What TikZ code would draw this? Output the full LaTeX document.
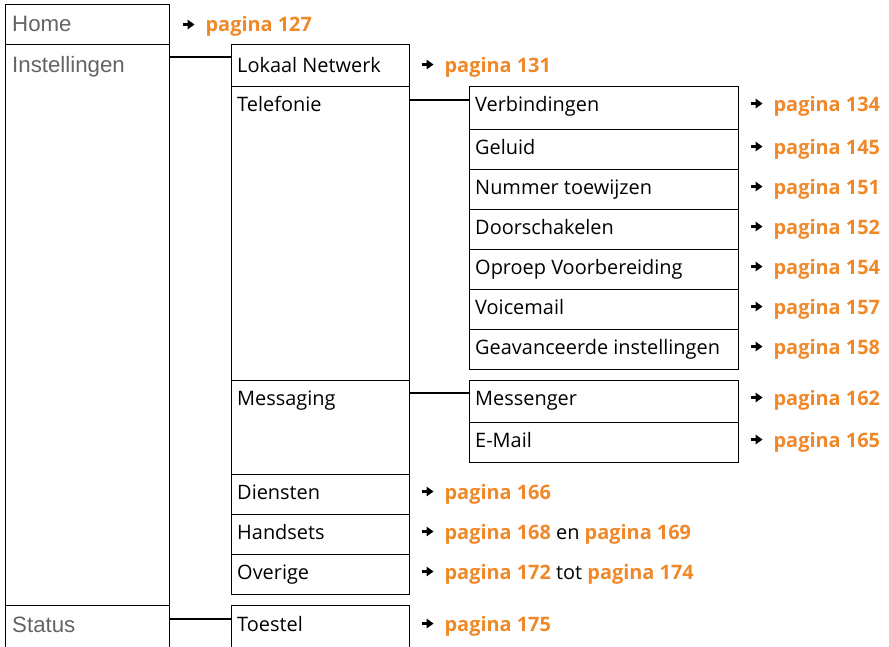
\documentclass[tikz,border=0pt]{standalone}
\usepackage{fontspec}
\setmainfont{Open Sans}
\newfontfamily\grijsfont{Liberation Sans}
\usetikzlibrary{calc,arrows.meta}
\definecolor{oranje}{RGB}{240,136,40}
\definecolor{grijs}{RGB}{100,100,100}
\def\pxl{0.03cm}
\newcommand{\pijl}{\tikz[baseline=-0.7ex]\draw[line width=1.8pt,-{Triangle[length=6pt,width=8pt]}] (0,0) -- (12*\pxl,0);\hspace{0.3cm}}
\newcommand{\pag}[1]{\textcolor{oranje}{\bfseries pagina #1}}
\tikzset{
  vak/.style 2 args={draw, line width=1.1pt, anchor=north west, inner sep=0pt, minimum width=#1*\pxl, minimum height=#2*\pxl},
  hoofd/.style={anchor=base west, inner sep=0pt, text=grijs, font=\grijsfont\fontsize{19}{22}\selectfont},
  tekst/.style={anchor=base west, inner sep=0pt, font=\fontsize{17}{20}\selectfont},
  verwijs/.style={anchor=base west, inner sep=0pt, font=\fontsize{17}{20}\selectfont},
  lijn/.style={line width=1.1pt}
}

\begin{document}
\begin{tikzpicture}[x=0.03cm,y=-0.03cm]
  \useasboundingbox (0,0) rectangle (889,647);
  \clip (0,0) rectangle (889,647);
  % first column
  \foreach \naam/\tekst/\y/\h/\b in {home/Home/4/40/28,inst/Instellingen/44/561/28,status/Status/605/60/27}
  {\node[vak={164}{\h}] (\naam) at (5,\y) {};
   \node[hoofd] (\naam T) at ([xshift=7*\pxl,yshift=-\b*\pxl]\naam.north west) {\tekst};}
  \node[verwijs] (homeR) at ($(homeT.base -| home.east)+(11,0)$) {\pijl\pag{127}};
  % second column
  \foreach \naam/\tekst/\y/\h/\b in {lokaal/Lokaal Netwerk/44/42/28,telefonie/Telefonie/86/294/25,messaging/Messaging/380/94/25,diensten/Diensten/474/40/25,handsets/Handsets/514/40/25,overige/Overige/554/40/25,toestel/Toestel/605/60/26}
  {\node[vak={178}{\h}] (\naam) at (231,\y) {};
   \node[tekst] (\naam T) at ([xshift=6*\pxl,yshift=-\b*\pxl]\naam.north west) {\tekst};}
  \node[verwijs] (lokaalR) at ($(lokaalT.base -| lokaal.east)+(10,0)$) {\pijl\pag{131}};
  \node[verwijs] (dienstenR) at ($(dienstenT.base -| diensten.east)+(10,0)$) {\pijl\pag{166}};
  \node[verwijs] (handsetsR) at ($(handsetsT.base -| handsets.east)+(10,0)$) {\pijl\pag{168} en \pag{169}};
  \node[verwijs] (overigeR) at ($(overigeT.base -| overige.east)+(10,0)$) {\pijl\pag{172} tot \pag{174}};
  \node[verwijs] (toestelR) at ($(toestelT.base -| toestel.east)+(10,0)$) {\pijl\pag{175}};
  % third column
  \foreach \naam/\tekst/\y/\h/\p in {verb/Verbindingen/86/43/134,geluid/Geluid/129/40/145,nummer/Nummer toewijzen/169/40/151,door/Doorschakelen/209/40/152,oproep/Oproep Voorbereiding/249/40/154,voice/Voicemail/289/40/157,geav/Geavanceerde instellingen/329/40/158,messenger/Messenger/380/42/162,email/E-Mail/422/40/165}
  {\node[vak={269}{\h}] (\naam) at (469,\y) {};
   \node[tekst] (\naam T) at ([xshift=6*\pxl,yshift=-25*\pxl]\naam.north west) {\tekst};
   \node[verwijs] (\naam R) at ($(\naam T.base -| \naam.east)+(10,0)$) {\pijl\pag{\p}};}
  % connectors
  \draw[lijn] ([yshift=-13*\pxl]inst.north east) -- ([yshift=-13*\pxl]lokaal.north west);
  \draw[lijn] ([yshift=-14*\pxl]telefonie.north east) -- ([yshift=-14*\pxl]verb.north west);
  \draw[lijn] ([yshift=-13*\pxl]messaging.north east) -- ([yshift=-13*\pxl]messenger.north west);
  \draw[lijn] ([yshift=-14*\pxl]status.north east) -- ([yshift=-14*\pxl]toestel.north west);
\end{tikzpicture}
\end{document}
